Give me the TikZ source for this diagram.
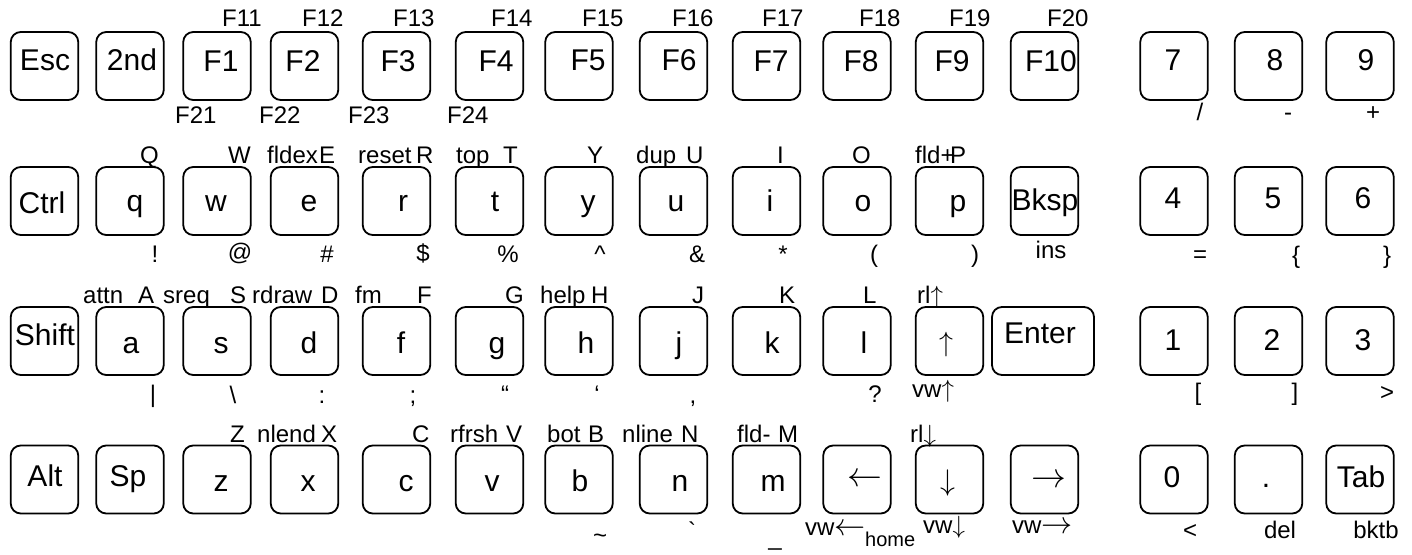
\documentclass[tikz,border=0pt]{standalone}
\usepackage{fontspec}
\setmainfont{Liberation Sans}
\usetikzlibrary{positioning}

\tikzset{
  keybox/.style={draw, line width=1.8pt, rounded corners=10pt,
                 minimum width=67.5pt, minimum height=68pt, inner sep=0pt},
  keytxt/.style={font=\fontsize{30}{32}\selectfont, inner sep=0pt, anchor=base},
  toplbl/.style={font=\fontsize{24}{26}\selectfont, inner sep=0pt, anchor=base west},
  botlbl/.style={font=\fontsize{24}{26}\selectfont, inner sep=0pt, anchor=base},
}
% wide horizontal arrows for the labels
\newcommand{\bigleft}{\scalebox{1.25}{$\leftarrow$}}
\newcommand{\bigright}{\scalebox{1.25}{$\rightarrow$}}

\begin{document}
\begin{tikzpicture}[x=1pt, y=-1pt]

\useasboundingbox (0,0) rectangle (1412,554);

% row heights (key centres)
\def\rowA{66}
\def\rowB{201}
\def\rowC{341}
\def\rowD{479.5}

%---------------------------------------
% Row 1: Esc, 2nd, F-keys, 7 8 9
%---------------------------------------
\foreach \nm/\cx/\tx/\ty in {Esc/44.5/45/70, 2nd/130/132/70, F1/217/221/71,
    F2/304.5/303/71, F3/396.5/398/71, F4/489.5/496/71, F5/579/588/70,
    F6/673.5/679/70, F7/766.5/771/71, F8/857/861/71, F9/949.5/952/71,
    F10/1044.5/1051/71, 7/1174/1173/70, 8/1268.5/1275/70, 9/1360/1366/70}
{
  \node[keybox] (k\nm) at (\cx,\rowA) {};
  \node[keytxt] (t\nm) at (\tx,\ty) {\nm};
}

% shifted function keys
\foreach \txt/\x in {F11/222, F12/302, F13/393, F14/491, F15/582,
    F16/672, F17/762, F18/859, F19/949, F20/1047}
  \node[toplbl] (l\txt) at (\x,27) {\txt};
\foreach \txt/\x in {F21/175, F22/259, F23/348, F24/447}
  \node[toplbl] (l\txt) at (\x,123) {\txt};

\node[botlbl] (lslash) at (1200,120) {/};
\node[botlbl] (lminus) at (1288,120) {-};
\node[botlbl] (lplus)  at (1373,120) {+};

%---------------------------------------
% Row 2: Ctrl, q ... p, Bksp, 4 5 6
%---------------------------------------
\foreach \nm/\cx/\txt/\tx/\ty in {Ctrl/44.5/Ctrl/42/213, q/130/q/135/211,
    w/217/w/216/211, e/304.5/e/309/211, r/396.5/r/403/211, t/489.5/t/495/211,
    y/579/y/588/211, u/673.5/u/676/211, i/766.5/i/770/211, o/857/o/863/211,
    p/949.5/p/958/211, Bksp/1044.5/Bksp/1045/210, 4/1174/4/1173/208,
    5/1268.5/5/1273/208, 6/1360/6/1363/208}
{
  \node[keybox] (k\nm) at (\cx,\rowB) {};
  \node[keytxt] (t\nm) at (\tx,\ty) {\txt};
}

\foreach \nm/\txt/\x in {Q/Q/140, W/W/228, fldex/fldex/267, E/E/319,
    reset/reset/358, R/R/416, top/top/456, T/T/503, Y/Y/587, dup/dup/636,
    U/U/686, I/I/777, O/O/852, fldp/fld+/915, P/P/950}
  \node[toplbl] (l\nm) at (\x,163) {\txt};

\node[botlbl] (lexcl)  at (155,262)  {!};
\node[botlbl] (lat)    at (240,260)  {@};
\node[botlbl] (lhash)  at (327,262)  {\#};
\node[botlbl] (ldol)   at (423,261)  {\$};
\node[botlbl] (lpct)   at (508,262)  {\%};
\node[botlbl] (lcaret) at (600,262)  {\textasciicircum};
\node[botlbl] (lamp)   at (697,262)  {\&};
\node[botlbl] (lstar)  at (783,262)  {*};
\node[botlbl] (lpopen) at (874,262)  {(};
\node[botlbl] (lpclos) at (975,262)  {)};
\node[botlbl] (lins)   at (1051,258) {ins};
\node[botlbl] (leq)    at (1200,262) {=};
\node[botlbl] (lbopen) at (1296,263) {\{};
\node[botlbl] (lbclos) at (1387,263) {\}};

%---------------------------------------
% Row 3: Shift, a ... l, up, Enter, 1 2 3
%---------------------------------------
\foreach \nm/\cx/\txt/\tx/\ty in {Shift/44.5/Shift/45/345, a/130/a/131/353,
    s/217/s/221/353, d/304.5/d/309/353, f/396.5/f/401/353, g/489.5/g/497/353,
    h/579/h/586/353, j/673.5/j/679/353, k/766.5/k/772/353, l/857/l/864/353,
    1/1174/1/1173/350, 2/1268.5/2/1272/350, 3/1360/3/1363/350}
{
  \node[keybox] (k\nm) at (\cx,\rowC) {};
  \node[keytxt] (t\nm) at (\tx,\ty) {\txt};
}
\node[keybox] (kUp) at (949.5,\rowC) {};
\node[keytxt, anchor=center] (tUp) at (946,345) {\scalebox{1.12}{$\uparrow$}};
\node[keybox, minimum width=102pt] (kEnter) at (1043,\rowC) {};
\node[keytxt] (tEnter) at (1040,343) {Enter};

\foreach \nm/\txt/\x in {attn/attn/83, A/A/138, sreq/sreq/163, S/S/230,
    rdraw/rdraw/252, D/D/321, fm/fm/355, F/F/417, G/G/505, help/help/540,
    H/H/591, J/J/692, K/K/779, L/L/863, rlup/rl$\uparrow$/917}
  \node[toplbl] (l\nm) at (\x,303) {\txt};

\node[botlbl] (lbar)   at (153,402)  {|};
\node[botlbl] (lbsl)   at (233,403)  {\textbackslash};
\node[botlbl] (lcolon) at (322,403)  {:};
\node[botlbl] (lsemi)  at (413,403)  {;};
\node[botlbl] (ldq)    at (505,402)  {“};
\node[botlbl] (lsq)    at (597,402)  {‘};
\node[botlbl] (lcomma) at (693,403)  {,};
\node[botlbl] (lquest) at (875,402)  {?};
\node[toplbl] (lvwup)  at (912,397)  {vw$\uparrow$};
\node[botlbl] (lkopen) at (1198,400) {[};
\node[botlbl] (lkclos) at (1295,400) {]};
\node[botlbl] (lgt)    at (1387,400) {>};

%---------------------------------------
% Row 4: Alt, Sp, z ... m, arrows, 0 . Tab
%---------------------------------------
\foreach \nm/\cx/\txt/\tx/\ty in {Alt/44.5/Alt/45/486, Sp/130/Sp/128/486,
    z/217/z/221/491, x/304.5/x/308/491, c/396.5/c/406/491, v/489.5/v/492/491,
    b/579/b/580/491, n/673.5/n/680/491, m/766.5/m/773/491,
    0/1174/0/1172/487, Dot/1268.5/./1266/487, Tab/1360/Tab/1361/487}
{
  \node[keybox] (k\nm) at (\cx,\rowD) {};
  \node[keytxt] (t\nm) at (\tx,\ty) {\txt};
}
\foreach \nm/\cx/\txt/\sc/\tx/\ty in {Left/857/\leftarrow/1.4/865/480,
    Down/949.5/\downarrow/1.2/948/483, Right/1044.5/\rightarrow/1.4/1049/481}
{
  \node[keybox] (k\nm) at (\cx,\rowD) {};
  \node[keytxt, anchor=center] (t\nm) at (\tx,\ty) {\scalebox{\sc}{$\txt$}};
}

\foreach \nm/\txt/\x in {Z/Z/230, nlend/nlend/257, X/X/321, C/C/412,
    rfrsh/rfrsh/450, V/V/506, bot/bot/547, B/B/588, nline/nline/622,
    N/N/681, fldm/fld-/737, M/M/778, rldown/rl$\downarrow$/910}
  \node[toplbl] (l\nm) at (\x,442) {\txt};

\node[botlbl] (ltilde) at (600,543) {\textasciitilde};
\node[botlbl] (lgrave) at (692,539) {\textasciigrave};
\node[botlbl] (lunder) at (775,545) {\textunderscore};
\node[toplbl] (lvwleft)  at (805,535) {vw\bigleft};
\node[toplbl, font=\fontsize{20}{22}\selectfont] (lhome) at (865,546) {home};
\node[toplbl] (lvwdown)  at (923,533) {vw$\downarrow$};
\node[toplbl] (lvwright) at (1012,533) {vw\bigright};
\node[botlbl] (llt)   at (1190,538) {<};
\node[botlbl] (ldel)  at (1280,538) {del};
\node[botlbl] (lbktb) at (1376,538) {bktb};

\end{tikzpicture}
\end{document}
